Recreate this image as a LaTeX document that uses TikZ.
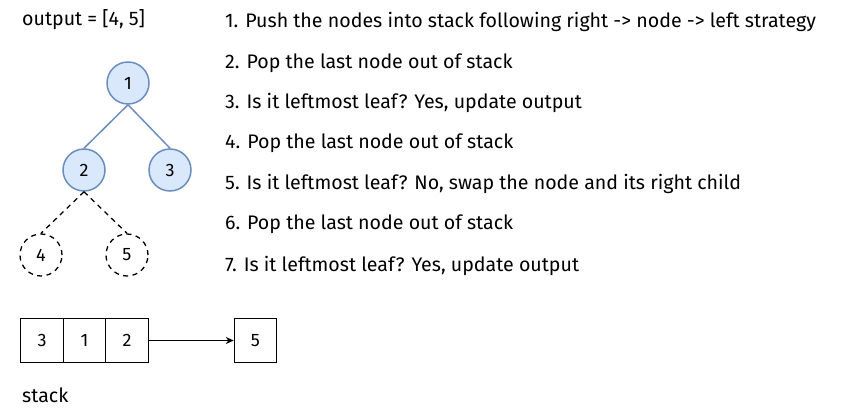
\documentclass[tikz,border=0pt]{standalone}
\usepackage{fontspec}
\setmainfont{Fira Sans}
\usetikzlibrary{arrows.meta}
\definecolor{nfill}{HTML}{DAE8FC}
\definecolor{nstroke}{HTML}{6C8EBF}
\begin{document}
\begin{tikzpicture}[x=1pt,y=-1pt,
  txt/.style={font=\fontsize{19.6}{22}\selectfont, anchor=west, inner sep=0pt},
  tnode/.style={circle, draw=nstroke, fill=nfill, line width=1.5pt, minimum size=42pt, inner sep=0pt, font=\fontsize{18}{20}\selectfont},
  dnode/.style={circle, draw=black, dash pattern=on 5pt off 4.5pt, line width=1.3pt, minimum size=42pt, inner sep=0pt, font=\fontsize{18}{20}\selectfont},
  cell/.style={draw=black, line width=1pt, minimum width=42.5pt, minimum height=43pt, inner sep=0pt, font=\fontsize{18}{20}\selectfont},
  tedge/.style={draw=nstroke, line width=1.5pt},
  dedge/.style={draw=black, dash pattern=on 5pt off 4.5pt, line width=1.3pt}]
\useasboundingbox (0,0) rectangle (867,419);
\fill[white] (0,0) rectangle (867,419);
\node[txt] (out) at (22,20) {output = [4, 5]};
\node[tnode] (n1) at (128,83) {1};
\node[tnode] (n2) at (84,170) {2};
\node[tnode] (n3) at (170,170) {3};
\node[dnode] (n4) at (41,255) {4};
\node[dnode] (n5) at (127,255) {5};
\draw[tedge] (n1.south) -- (n2.north);
\draw[tedge] (n1.south) -- (n3.north);
\draw[dedge] (n2.south) -- (n4.north);
\draw[dedge] (n2.south) -- (n5.north);
\node[txt] (s1) at (225,22) {1. Push the nodes into stack following right -> node -> left strategy};
\node[txt] (s2) at (225,63) {2. Pop the last node out of stack};
\node[txt] (s3) at (225,103) {3. Is it leftmost leaf? Yes, update output};
\node[txt] (s4) at (225,143) {4. Pop the last node out of stack};
\node[txt] (s5) at (225,184) {5. Is it leftmost leaf? No, swap the node and its right child};
\node[txt] (s6) at (225,224) {6. Pop the last node out of stack};
\node[txt] (s7) at (225,266) {7. Is it leftmost leaf? Yes, update output};
\node[cell] (c3) at (42,340.5) {3};
\node[cell] (c1) at (84.5,340.5) {1};
\node[cell] (c2) at (127,340.5) {2};
\node[cell] (c5) at (255.5,340.5) {5};
\draw[-{Stealth[length=8pt,width=7pt]}, line width=1pt] (c2.east) -- (c5.west);
\node[txt] (stk) at (22,395) {stack};
\end{tikzpicture}
\end{document}
